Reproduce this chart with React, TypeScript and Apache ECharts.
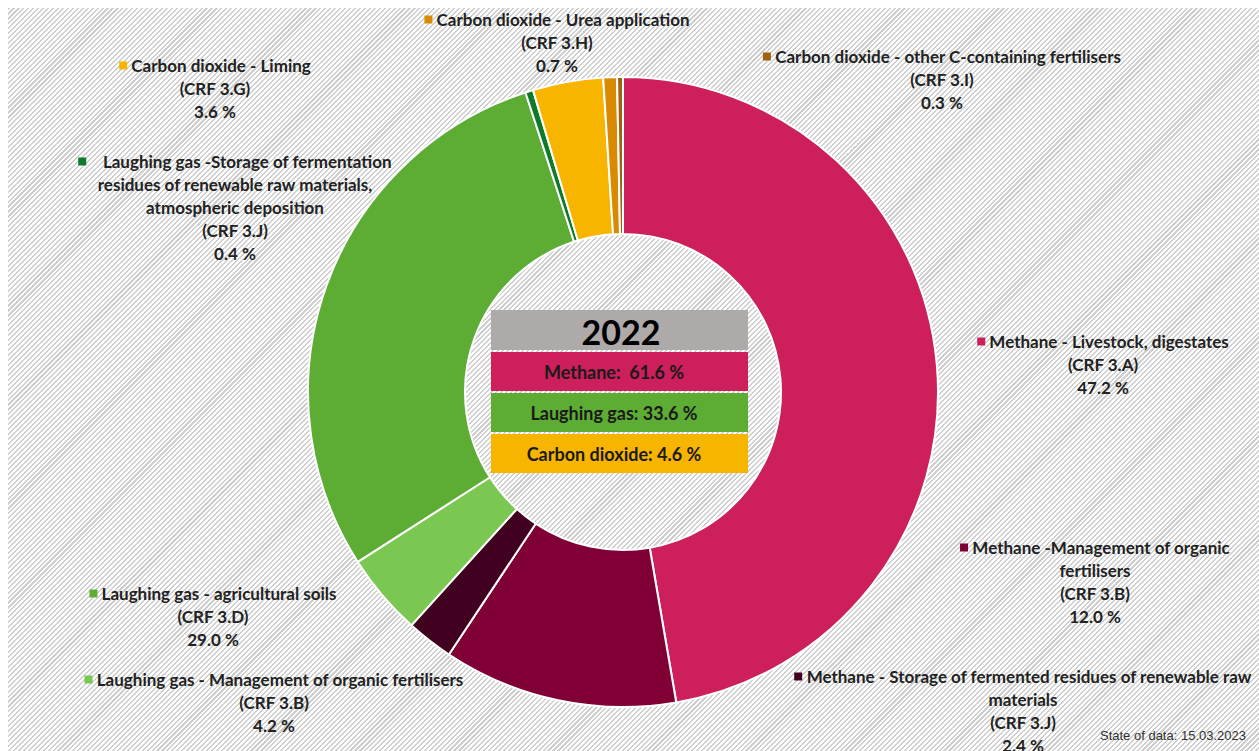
import React, { useEffect, useRef } from "react";
import * as echarts from "echarts";

const sliceNames = [
  "Methane - Livestock, digestates",
  "Methane -Management of organic\nfertilisers",
  "Methane - Storage of fermented residues of renewable raw\nmaterials",
  "Laughing gas - Management of organic fertilisers",
  "Laughing gas - agricultural soils",
  "   Laughing gas -Storage of fermentation\nresidues of renewable raw materials,\natmospheric deposition",
  "Carbon dioxide - Liming",
  "Carbon dioxide - Urea application",
  "Carbon dioxide - other C-containing fertilisers",
];
const sliceCodes = ["CRF 3.A", "CRF 3.B", "CRF 3.J", "CRF 3.B", "CRF 3.D", "CRF 3.J", "CRF 3.G", "CRF 3.H", "CRF 3.I"];
const sliceValues = [47.2, 12.0, 2.4, 4.2, 29.0, 0.4, 3.6, 0.7, 0.3];
const sliceColors = ["#CC1F5B", "#800035", "#420020", "#7AC752", "#5DAD35", "#0D7A2C", "#F7B500", "#D98A00", "#A0620F"];

const summaryYear = "2022";
const summaryNames = ["Methane", "Laughing gas", "Carbon dioxide"];
const summaryValues = [61.6, 33.6, 4.6];
const summaryColors = ["#CC1F5B", "#5DAD35", "#F7B500"];
const stateText = "State of data: 15.03.2023";

// label anchor positions (center x, top y) in pixels
const labelPos: [number, number][] = [
  [1103, 330],
  [1095, 536],
  [1023, 665],
  [274, 668],
  [213, 582],
  [235, 150],
  [215, 54],
  [557, 8],
  [942, 45],
];

const FONT = "Lato, 'Open Sans', sans-serif";

export default function App() {
  const ref = useRef<HTMLDivElement>(null);
  useEffect(() => {
    if (!ref.current) return;
    const chart = echarts.init(ref.current, undefined, { renderer: "svg" });
    const rich: any = {};
    sliceColors.forEach((c, i) => {
      rich["m" + i] = { width: 8, height: 8, backgroundColor: c };
    });
    const graphics: any[] = [];
    graphics.push({
      type: "rect",
      shape: { x: 491, y: 310, width: 257, height: 40 },
      style: { fill: "#AEAAAA" },
    });
    graphics.push({
      type: "text",
      x: 621,
      y: 331,
      style: {
        text: summaryYear,
        font: `bold 34px ${FONT}`,
        fill: "#000",
        align: "center",
        verticalAlign: "middle",
      },
    });
    summaryNames.forEach((n, i) => {
      const y = 352 + i * 41;
      graphics.push({
        type: "rect",
        shape: { x: 491, y, width: 257, height: 39 },
        style: { fill: summaryColors[i] },
      });
      graphics.push({
        type: "text",
        x: 614,
        y: y + 20,
        style: {
          text: `${n}:${i === 0 ? "  " : " "}${summaryValues[i].toFixed(1)} %`,
          font: `bold 18px ${FONT}`,
          fill: "#1a1a1a",
          align: "center",
          verticalAlign: "middle",
        },
      });
    });
    graphics.push({
      type: "text",
      x: 1246,
      y: 735,
      style: {
        text: stateText,
        font: "13px 'Liberation Sans', Arial, sans-serif",
        fill: "#333",
        align: "right",
        verticalAlign: "middle",
      },
    });

    chart.setOption({
      animation: false,
      backgroundColor: "transparent",
      series: [
        {
          type: "pie",
          center: [623, 392],
          radius: [158, 315],
          startAngle: 90,
          clockwise: true,
          avoidLabelOverlap: false,
          itemStyle: { borderColor: "#fff", borderWidth: 2 },
          labelLine: { show: false },
          emphasis: { disabled: true },
          label: {
            show: true,
            position: "outside",
            formatter: (p: any) =>
              `{m${p.dataIndex}|} ${sliceNames[p.dataIndex]}\n(${sliceCodes[p.dataIndex]})\n${sliceValues[p.dataIndex].toFixed(1)} %`,
            fontFamily: FONT,
            fontWeight: "bold",
            fontSize: 17,
            lineHeight: 23,
            color: "#222",
            align: "center",
            rich,
          },
          labelLayout: (params: any) => {
            const p = labelPos[params.dataIndex];
            return { x: p[0], y: p[1], align: "center", verticalAlign: "top" };
          },
          data: sliceValues.map((v, i) => ({
            value: v,
            name: sliceNames[i],
            itemStyle: { color: sliceColors[i] },
          })),
        },
      ],
      graphic: graphics,
    });
    return () => chart.dispose();
  }, []);
  return (
    <div style={{ position: "fixed", left: 0, top: 0, width: 1259, height: 751, background: "#fff" }}>
      <div
        style={{
          position: "absolute",
          left: 8,
          top: 8,
          width: 1251,
          height: 743,
          background:
            "repeating-linear-gradient(135deg, #cfcfcf 0px, #cfcfcf 1.5px, #ffffff 1.5px, #ffffff 3.5px)",
        }}
      />
      <div ref={ref} style={{ position: "absolute", left: 0, top: 0, width: 1259, height: 751 }} />
    </div>
  );
}
